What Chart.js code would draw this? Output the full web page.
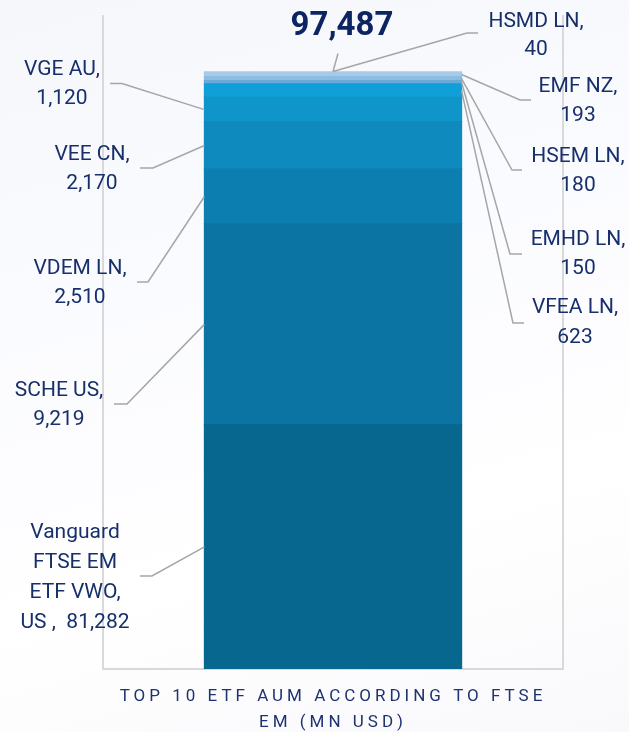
<!DOCTYPE html>
<html>
<head>
<meta charset="utf-8">
<script src="https://cdn.jsdelivr.net/npm/chart.js@4.4.1/dist/chart.umd.min.js"></script>
<style>
  html, body { margin: 0; padding: 0; }
  body {
    width: 629px; height: 732px; overflow: hidden;
    background: linear-gradient(165deg, #f6f7fb 0%, #fafbfe 35%, #fdfdff 55%, #ffffff 70%, #f9f9fc 100%);
  }
  #wrap { position: relative; width: 629px; height: 732px; }
</style>
</head>
<body>
<div id="wrap"><canvas id="c" width="629" height="732"></canvas></div>
<script>
// ---- data (bottom of the stack first) ----
const categories = ['Top 10 ETF AUM'];
const etfNames = ['Vanguard FTSE EM ETF VWO, US', 'SCHE US', 'VDEM LN', 'VEE CN', 'VGE AU',
                  'VFEA LN', 'EMHD LN', 'HSEM LN', 'EMF NZ', 'HSMD LN'];
const aumValues = [81282, 9219, 2510, 2170, 1120, 623, 150, 180, 193, 40];
// the largest segment is drawn cut off (axis break) in the reference
const brokenSegmentCap = [11200, null, null, null, null, null, null, null, null, null];
const titleLines = ['TOP 10 ETF AUM ACCORDING TO FTSE', 'EM (MN USD)'];
const labelNameLines = [
  ['Vanguard', 'FTSE EM', 'ETF VWO,', 'US ,  '],
  ['SCHE US,'], ['VDEM LN,'], ['VEE CN,'], ['VGE AU,'],
  ['VFEA LN,'], ['EMHD LN,'], ['HSEM LN,'], ['EMF NZ,'], ['HSMD LN,']
];
const segmentColors = ['#08678f', '#0b74a3', '#0c7fb0', '#0e8abe', '#0f95ca',
                       '#10a0d7', '#6aa9d8', '#8dbce2', '#a7cae8', '#c2daef'];

// ---- label layout (positions only) ----
const labelLayout = [
  { side: 'left',  cx: 75,  cy: 533, lh: 30,   ex: 152, ey: 576, tx: 140 },
  { side: 'left',  cx: 59,  cy: 391, lh: 28.5, ex: 127, ey: 404, tx: 114 },
  { side: 'left',  cx: 80,  cy: 269, lh: 28.5, ex: 148, ey: 282, tx: 137 },
  { side: 'left',  cx: 92,  cy: 155, lh: 28.5, ex: 153, ey: 168, tx: 140 },
  { side: 'left',  cx: 62,  cy: 70,  lh: 28.5, ex: 122, ey: 83.5, tx: 110 },
  { side: 'right', cx: 575, cy: 308, lh: 29.5, ex: 513, ey: 323, tx: 524 },
  { side: 'right', cx: 578, cy: 240, lh: 29,   ex: 510, ey: 254, tx: 522 },
  { side: 'right', cx: 578, cy: 157, lh: 28.5, ex: 512, ey: 170, tx: 522 },
  { side: 'right', cx: 578, cy: 87,  lh: 29,   ex: 520, ey: 100, tx: 531 },
  { side: 'top',   cx: 536, cy: 22,  lh: 28,   ex: 467, ey: 33,  tx: 478 }
];

const fmt = v => v.toLocaleString('en-US');
const totalAum = aumValues.reduce((a, b) => a + b, 0);
const drawnValues = aumValues.map((v, i) => brokenSegmentCap[i] !== null ? Math.min(v, brokenSegmentCap[i]) : v);

const datasets = etfNames.map((name, i) => ({
  label: name,
  data: [drawnValues[i]],
  backgroundColor: segmentColors[i],
  borderWidth: 0,
  inflateAmount: 0.6,
  barPercentage: 0.559,
  categoryPercentage: 1.0,
  stack: 's'
}));

const TEXT = '#172f6b';
const LINE = '#a6a6a6';

const decorPlugin = {
  id: 'decor',
  beforeDatasetsDraw(chart) {
    const { ctx, chartArea: a } = chart;
    ctx.save();
    ctx.strokeStyle = '#d9d9d9';
    ctx.lineWidth = 2;
    ctx.beginPath();
    ctx.moveTo(a.left, a.top);
    ctx.lineTo(a.left, a.bottom);
    ctx.lineTo(a.right, a.bottom);
    ctx.lineTo(a.right, a.top);
    ctx.stroke();
    ctx.restore();
  },
  afterDatasetsDraw(chart) {
    const { ctx } = chart;
    ctx.save();
    // leader lines
    ctx.strokeStyle = LINE;
    ctx.lineWidth = 1.5;
    labelLayout.forEach((L, i) => {
      const el = chart.getDatasetMeta(i).data[0];
      const midY = (el.y + el.base) / 2;
      let ax, ay;
      if (L.side === 'left') { ax = el.x - el.width / 2; ay = midY; }
      else if (L.side === 'right') { ax = el.x + el.width / 2; ay = midY; }
      else { ax = el.x; ay = el.y; }
      ctx.beginPath();
      ctx.moveTo(ax, ay);
      ctx.lineTo(L.ex, L.ey);
      ctx.lineTo(L.tx, L.ey);
      ctx.stroke();
    });
    // total leader
    const topEl = chart.getDatasetMeta(etfNames.length - 1).data[0];
    ctx.beginPath();
    ctx.moveTo(topEl.x, topEl.y);
    ctx.lineTo(topEl.x + 5, topEl.y - 18);
    ctx.stroke();

    // labels
    ctx.fillStyle = TEXT;
    ctx.textAlign = 'center';
    ctx.textBaseline = 'middle';
    ctx.font = '21px Roboto, "Noto Sans", sans-serif';
    labelLayout.forEach((L, i) => {
      const lines = labelNameLines[i].slice();
      const last = lines[lines.length - 1];
      if (last.endsWith(' ')) lines[lines.length - 1] = last + fmt(aumValues[i]);
      else lines.push(fmt(aumValues[i]));
      lines.forEach((t, k) => ctx.fillText(t, L.cx, L.cy + k * L.lh));
    });

    // total
    ctx.font = 'bold 33px Roboto, "Noto Sans", sans-serif';
    ctx.fillStyle = '#0c2461';
    ctx.fillText(fmt(totalAum), topEl.x + 9, 27);

    // title with letter spacing
    ctx.font = '17px Roboto, "Noto Sans", sans-serif';
    ctx.fillStyle = '#1d3270';
    try { ctx.letterSpacing = '4px'; } catch (e) {}
    titleLines.forEach((t, k) => {
      ctx.fillText(t, 331 + 2, 697 + k * 26);
    });
    ctx.restore();
  }
};

new Chart(document.getElementById('c'), {
  type: 'bar',
  data: { labels: categories, datasets },
  options: {
    responsive: false,
    animation: false,
    layout: { padding: { left: 103, right: 66, top: 15, bottom: 63 } },
    plugins: { legend: { display: false }, tooltip: { enabled: false }, title: { display: false } },
    scales: {
      x: { display: false, stacked: true },
      y: { display: false, stacked: true, min: 0, max: 30000 }
    }
  },
  plugins: [decorPlugin]
});
</script>
</body>
</html>
